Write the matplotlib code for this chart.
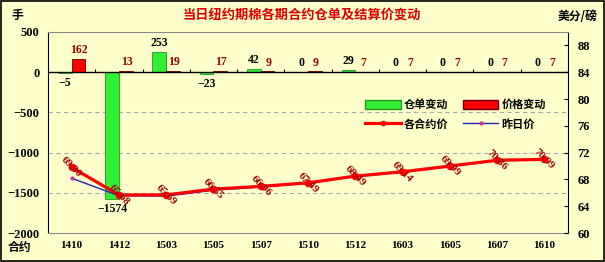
import matplotlib
matplotlib.use("Agg")
import matplotlib.pyplot as plt
from matplotlib.patches import Patch
from matplotlib.lines import Line2D
import numpy as np

plt.rcParams['font.family'] = ['Liberation Serif', 'Noto Sans CJK SC', 'DejaVu Sans']
plt.rcParams['font.weight'] = 'bold'

categories = ['1410', '1412', '1503', '1505', '1507', '1510', '1512', '1603', '1605', '1607', '1610']
warrant_change = [-5, -1574, 253, -23, 42, 0, 29, 0, 0, 0, 0]
price_change = [162, 13, 19, 17, 9, 9, 7, 7, 7, 7, 7]
settle_price = [69.80, 65.68, 65.69, 66.55, 66.96, 67.49, 68.49, 69.14, 69.99, 70.86, 70.99]
prev_price = [68.18, 65.55, 65.50, 66.38, 66.87, 67.40, 68.42, 69.07, 69.92, 70.79, 70.92]
left_ticks = [500, 0, -500, -1000, -1500, -2000]
right_ticks = [60, 64, 68, 72, 76, 80, 84, 88]

title = '当日纽约期棉各期合约仓单及结算价变动'
bg = '#FFFFCC'
green = '#33EE33'
red = '#FF0000'
darkred = '#990000'

fig = plt.figure(figsize=(6.05, 2.62), dpi=100, facecolor=bg)
ax = fig.add_axes([48/605, 1-233/262, 520/605, 201/262])
ax.set_facecolor(bg)
x = np.arange(len(categories))
w = 0.29
gb = ax.bar(x - 0.145, warrant_change, w, color=green, edgecolor='#229922', linewidth=0.6, zorder=3)
rb = ax.bar(x + 0.145, price_change, w, color=red, edgecolor='#660000', linewidth=0.6, zorder=3)
ax.set_xlim(-0.5, len(categories) - 0.5)
ax.set_ylim(-2000, 500)
ax.set_yticks(left_ticks)
ax.set_yticklabels([str(v).replace('-', '−') for v in left_ticks])
ax.set_xticks(x)
ax.set_xticklabels(categories)
ax.tick_params(axis='x', length=0, pad=6, labelsize=8)
ax.tick_params(axis='y', length=0, pad=6, labelsize=9)
for v in [-500, -1000, -1500]:
    ax.axhline(v, color='#AAAAAA', lw=0.8, ls=(0, (4, 3)), zorder=1)
ax.axhline(0, color='black', lw=1.0, zorder=4)
ax.vlines(np.arange(-0.5, len(categories)), 0, 45, color='black', lw=0.8, zorder=4)
for s in ['top', 'bottom']:
    ax.spines[s].set_color('#888888')
ax.spines['left'].set_color('black')
ax.spines['right'].set_color('black')

for xi, v in zip(x, warrant_change):
    if v < 0:
        ax.annotate(str(v).replace('-', '−'), (xi - 0.145, v), xytext=(0, -3), textcoords='offset points',
                    ha='center', va='top', fontsize=8.5, color='black', zorder=6)
    else:
        ax.annotate(str(v), (xi - 0.145, v), xytext=(0, 2), textcoords='offset points',
                    ha='center', va='bottom', fontsize=8.5, color='black', zorder=6)
for xi, v in zip(x, price_change):
    ax.annotate(str(v), (xi + 0.16, v), xytext=(0, 2), textcoords='offset points',
                ha='center', va='bottom', fontsize=8.5, color=darkred, zorder=6)

ax2 = ax.twinx()
ax2.set_ylim(60, 90)
ax2.set_yticks(right_ticks)
ax2.tick_params(axis='y', direction='in', length=3, pad=7, labelsize=9)
lp, = ax2.plot(x, prev_price, color='#2222BB', lw=1.0, marker='o', ms=2, mfc='#CC3399', mec='#CC3399', zorder=4)
ls_, = ax2.plot(x, settle_price, color=red, lw=2.3, marker='o', ms=4.5, mfc=red, mec=red, zorder=5)
for xi, v in zip(x, settle_price):
    ax2.text(xi, v, f'{v:.2f}', rotation=-45, ha='center', va='center', fontsize=8,
             color=darkred, zorder=7)
for s in ax2.spines.values():
    s.set_visible(False)

handles = [Patch(facecolor=green, edgecolor='#229922'),
           Line2D([], [], color=red, lw=2.3, marker='o', ms=3),
           Patch(facecolor=red, edgecolor='#660000'),
           Line2D([], [], color='#2222BB', lw=1.0, marker='o', ms=2, mfc='#CC3399', mec='#CC3399')]
labels = ['仓单变动', '各合约价', '价格变动', '昨日价']
fig.legend(handles, labels, loc='upper left', bbox_to_anchor=(355/605, 1-88/262), ncol=2,
           frameon=False, handlelength=3.2, handleheight=0.9, columnspacing=1.3,
           labelspacing=0.6, handletextpad=0.3, prop={'family': ['Noto Sans CJK SC'], 'weight': 'bold', 'size': 8})

fig.text(302/605, 1-15/262, title, ha='center', va='center', color='#DD0000', fontsize=9.5,
         family=['Noto Sans CJK SC'], weight='bold')
fig.text(12/605, 1-15/262, '手', ha='left', va='center', fontsize=8.5, family=['Noto Sans CJK SC'], weight='bold')
fig.text(597/605, 1-16/262, '美分/磅', ha='right', va='center', fontsize=8.5, family=['Noto Sans CJK SC'], weight='bold')
fig.text(8/605, 1-247/262, '合约', ha='left', va='center', fontsize=8.5, family=['Noto Sans CJK SC'], weight='bold')

border = plt.Rectangle((0.0015, 0.003), 0.997, 0.994, transform=fig.transFigure, fill=False,
                       edgecolor='black', lw=1.2)
fig.patches.append(border)

fig.savefig('out.png', dpi=100, facecolor=bg)
